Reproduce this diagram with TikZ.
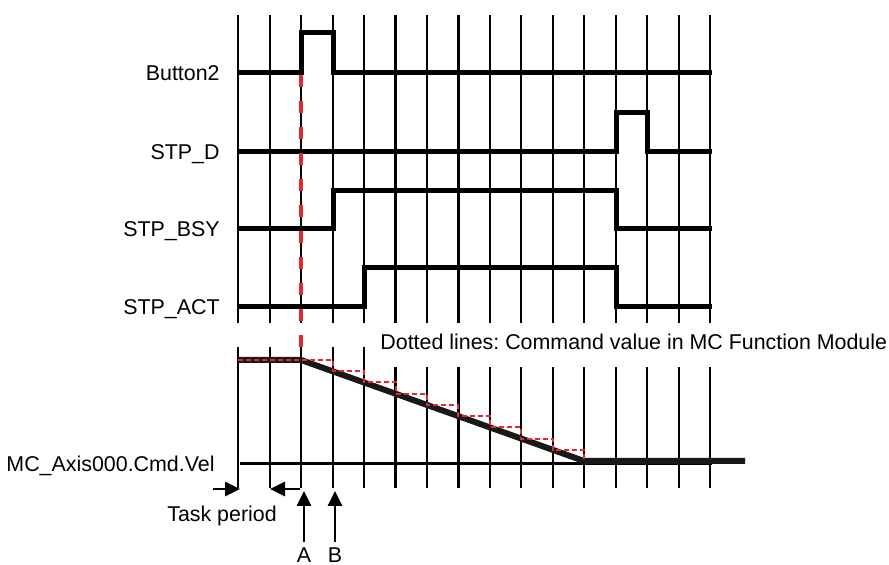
\documentclass[tikz,border=0pt]{standalone}
\usepackage{fontspec}
\setmainfont{Liberation Sans}
\usetikzlibrary{arrows.meta, positioning}
\definecolor{cmdred}{RGB}{232,38,45}
\frenchspacing

\begin{document}
\begin{tikzpicture}[x=0.5pt, y=-0.5pt, font=\fontsize{10.7}{12.8}\selectfont,
    grid/.style={line width=1.1pt},
    wave/.style={line width=2.5pt},
    sig/.style={anchor=base east, inner sep=0pt},
    tip/.style={-{Triangle[length=7.5pt,width=7pt]}, line width=1.4pt}]
    \useasboundingbox (0,0) rectangle (889,565);
    % Taktraster
    \foreach \i in {0,...,15}{
        \pgfmathsetmacro\gx{238.3+31.45*\i}
        \pgfmathsetmacro\gy{\i<5 ? 347 : 367}
        \draw[grid] (\gx,15) -- (\gx,323);
        \draw[grid] (\gx,\gy) -- (\gx,488);
    }
    % Signale
    \node[sig] (btn) at (220,80.6) {Button2};
    \node[sig] (stpd) at (220,159.6) {STP\_D};
    \node[sig] (bsy) at (220,236.6) {STP\_BSY};
    \node[sig] (act) at (220,314.6) {STP\_ACT};
    \draw[wave] (238,73) -- (301,73) -- (301,33) -- (333,33) -- (333,73) -- (712,73);
    \draw[wave] (238,152) -- (616,152) -- (616,113) -- (647,113) -- (647,152) -- (712,152);
    \draw[wave] (238,229) -- (333,229) -- (333,191) -- (616,191) -- (616,229) -- (712,229);
    \draw[wave] (238,307) -- (364,307) -- (364,268) -- (616,268) -- (616,307) -- (712,307);
    % Geschwindigkeit
    \node[sig] (vel) at (215,472) {MC\_Axis000.Cmd.Vel};
    \node[anchor=west, inner sep=0pt] (note) at (380,342) {Dotted lines: Command value in MC Function Module};
    \draw[line width=1.5pt] (240,464) -- (712,464);
    \draw[line width=3pt, black!90] (238,360) -- (301,360) -- (584,461) -- (745,461);
    \draw[cmdred, line width=1pt, dash pattern=on 2.5pt off 1.5pt] (238,360)
        foreach \k in {1,...,9}{ -- ({238.3+31.45*(\k+2)},{360+11.22*(\k-1)}) -- ({238.3+31.45*(\k+2)},{360+11.22*\k}) };
    \draw[cmdred, line width=2pt, dash pattern=on 6pt off 7pt] (301,75) -- (301,358);
    % Task period
    \coordinate (tpa) at (213,489);
    \coordinate (tpb) at (240,489);
    \coordinate (tpc) at (300,489);
    \coordinate (tpd) at (270,489);
    \draw[tip] (tpa) -- (tpb);
    \draw[tip] (tpc) -- (tpd);
    \node[anchor=base, inner sep=0pt] (task) at (222,522) {Task period};
    % A, B
    \node[anchor=base, inner sep=0pt, outer ysep=3pt] (ptA) at (304,563) {A};
    \node[anchor=base, inner sep=0pt, outer ysep=3pt] (ptB) at (335,563) {B};
    \coordinate (ta) at (304,491);
    \coordinate (tb) at (335,491);
    \draw[tip] (ptA) -- (ta);
    \draw[tip] (ptB) -- (tb);
\end{tikzpicture}
\end{document}
